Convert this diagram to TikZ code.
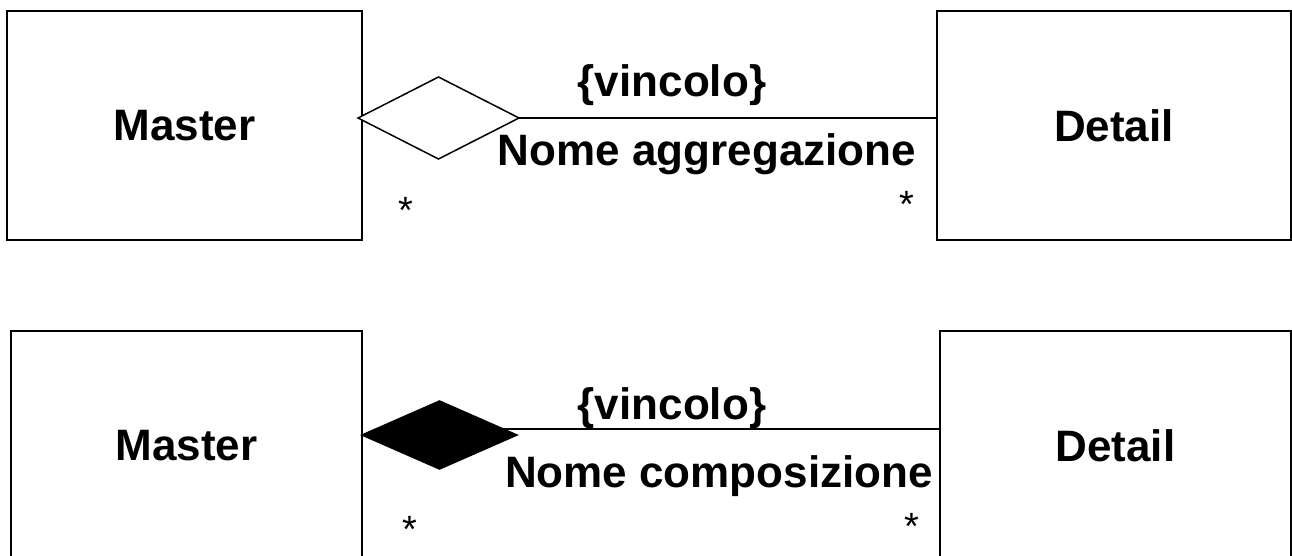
\documentclass[tikz,border=0pt]{standalone}
\usepackage{fontspec}
\setmainfont{Liberation Sans}
\usepackage{tikz}
\usetikzlibrary{shapes.geometric}

\begin{document}
\begin{tikzpicture}[x=1pt, y=-1pt, line width=1.5pt,
  every node/.style={outer sep=0pt, font=\fontsize{44}{48}\selectfont\bfseries},
  classbox/.style={draw, rectangle, minimum height=229pt, inner sep=0pt},
  rombo/.style={draw, diamond, inner sep=0pt},
  lbl/.style={anchor=base, inner sep=0pt},
  molt/.style={anchor=base, inner sep=0pt, font=\fontsize{38}{40}\selectfont}]
\useasboundingbox (0,0) rectangle (1292,556);

\node[classbox, minimum width=355pt] (masA) at (184.5,125.5) {Master};
\node[classbox, minimum width=354pt] (detA) at (1114,125.5) {Detail};
\node[rombo, fill=white, minimum width=161pt, minimum height=82pt] (agg) at (438.5,118) {};
\draw (agg.east) -- (agg.east -| detA.west);
\node[lbl] (vinA) at (672,97) {\{vincolo\}};
\node[lbl] (nomA) at (707,166) {Nome aggregazione};
\node[molt] (molA1) at (406,223) {*};
\node[molt] (molA2) at (907,217) {*};

\node[classbox, minimum width=351pt] (masB) at (186.5,445.5) {Master};
\node[classbox, minimum width=351pt] (detB) at (1115.5,445.5) {Detail};
\node[rombo, fill=black, minimum width=155pt, minimum height=68pt] (comp) at (439.5,435) {};
\coordinate (compend) at (503,429);
\draw (compend) -- (compend -| detB.west);
\node[lbl] (vinB) at (672,419) {\{vincolo\}};
\node[lbl] (nomB) at (719,487) {Nome composizione};
\node[molt] (molB1) at (410,542) {*};
\node[molt] (molB2) at (912,539) {*};
\end{tikzpicture}
\end{document}
